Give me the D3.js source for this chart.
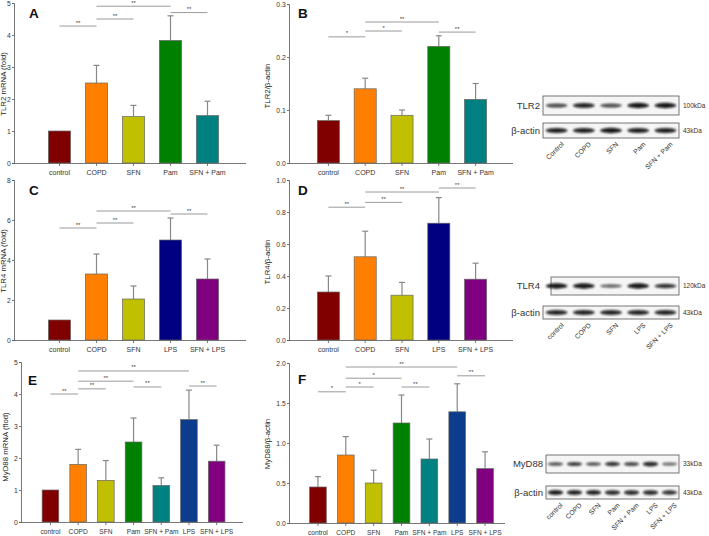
<!DOCTYPE html>
<html>
<head>
<meta charset="utf-8">
<script src="https://cdn.jsdelivr.net/npm/d3@7"></script>
<style>
  body { margin: 0; background: #fff; }
  svg { display: block; font-family: "Liberation Sans", Arial, sans-serif; }
</style>
</head>
<body>
<div id="chart"></div>
<script>
// Groepen
const groupsTLR2 = ["control", "COPD", "SFN", "Pam", "SFN + Pam"];
const groupsTLR4 = ["control", "COPD", "SFN", "LPS", "SFN + LPS"];
const groupsMyD88 = ["control", "COPD", "SFN", "Pam", "SFN + Pam", "LPS", "SFN + LPS"];

// Waarden (gemiddelde) en SD (bovenste foutbalk)
const tlr2mRNA = [1, 2.5, 1.45, 3.83, 1.48];
const tlr2mRNASd = [0, 0.55, 0.35, 0.77, 0.45];
const tlr2Protein = [0.08, 0.14, 0.09, 0.22, 0.12];
const tlr2ProteinSd = [0.01, 0.02, 0.01, 0.02, 0.03];
const tlr4mRNA = [1, 3.3, 2.05, 5.0, 3.05];
const tlr4mRNASd = [0, 1.0, 0.65, 1.1, 1.0];
const tlr4Protein = [0.30, 0.52, 0.28, 0.73, 0.38];
const tlr4ProteinSd = [0.10, 0.16, 0.08, 0.16, 0.10];
const myd88mRNA = [1, 1.8, 1.3, 2.5, 1.14, 3.2, 1.9];
const myd88mRNASd = [0, 0.47, 0.62, 0.75, 0.24, 0.92, 0.5];
const myd88Protein = [0.45, 0.85, 0.50, 1.25, 0.80, 1.39, 0.68];
const myd88ProteinSd = [0.13, 0.23, 0.16, 0.35, 0.25, 0.35, 0.21];

// Tick labels
const ticksA = [0, 1, 2, 3, 4, 5];
const ticksB = [0, 0.1, 0.2, 0.3];
const ticksC = [0, 2, 4, 6, 8];
const ticksD = [0, 0.2, 0.4, 0.6, 0.8, 1.0];
const ticksE = [0, 1, 2, 3, 4, 5];
const ticksF = [0, 0.5, 1.0, 1.5, 2.0];

// Significantie: [van, tot, label, hoogte in data-eenheden]
const sigA = [[0, 1, "**", 4.28], [1, 2, "**", 4.5], [1, 3, "**", 4.9], [3, 4, "**", 4.7]];
const sigB = [[0, 1, "*", 0.238], [1, 2, "*", 0.249], [1, 3, "**", 0.266], [3, 4, "**", 0.247]];
const sigC = [[0, 1, "**", 5.6], [1, 2, "**", 5.85], [1, 3, "**", 6.45], [3, 4, "**", 6.3]];
const sigD = [[0, 1, "**", 0.83], [1, 2, "**", 0.86], [1, 3, "**", 0.925], [3, 4, "**", 0.95]];
const sigE = [[0, 1, "**", 4.0], [1, 2, "**", 4.16], [1, 3, "**", 4.4], [1, 5, "**", 4.72], [3, 4, "**", 4.22], [5, 6, "**", 4.25]];
const sigF = [[0, 1, "*", 1.64], [1, 2, "*", 1.70], [1, 3, "*", 1.81], [1, 5, "**", 1.95], [3, 4, "**", 1.70], [5, 6, "**", 1.84]];

// Western blot band intensiteit (0-1)
const blotTLR2 = [0.55, 0.8, 0.5, 0.9, 0.9];
const blotTLR2Lanes = ["Control", "COPD", "SFN", "Pam", "SFN + Pam"];
const blotTLR2Actin = [0.85, 0.85, 0.9, 0.85, 0.85];
const blotTLR4 = [0.9, 0.9, 0.35, 0.9, 0.7];
const blotTLR4Actin = [0.8, 0.8, 0.8, 0.8, 0.8];
const blotMyD88 = [0.45, 0.6, 0.45, 0.65, 0.5, 0.75, 0.3];
const blotMyD88Actin = [0.85, 0.8, 0.8, 0.75, 0.75, 0.75, 0.7];

const colors = {
    "control": "#800000", "COPD": "#ff8000", "SFN": "#c0c000", "Pam": "#008000",
    "SFN + Pam": "#008080", "LPS": "#000080", "SFN + LPS": "#800080"
};

const width = 709, height = 536;
const svg = d3.select("#chart").append("svg")
    .attr("width", width).attr("height", height);
svg.append("rect").attr("width", width).attr("height", height).attr("fill", "#fff");

const defs = svg.append("defs");
defs.append("filter").attr("id", "blur")
    .attr("x", "-50%").attr("y", "-200%").attr("width", "200%").attr("height", "500%")
    .append("feGaussianBlur").attr("stdDeviation", 0.9);

function drawPanel(p) {
    const g = svg.append("g");
    const y = d3.scaleLinear().domain(p.domain).range([p.y0, p.y1]);
    const x = d3.scaleBand().domain(p.groups).range(p.band).paddingInner(0.4).paddingOuter(0.2);

    // y-as
    const yAxis = g.append("g").attr("transform", "translate(" + p.ax + ",0)")
        .call(d3.axisLeft(y).tickValues(p.ticks).tickFormat(p.fmt).tickSize(2).tickPadding(1.2));
    // x-as
    const xAxis = g.append("g").attr("transform", "translate(0," + p.y0 + ")")
        .call(d3.axisBottom(x).tickSize(3).tickPadding(4));
    xAxis.select(".domain").attr("d", "M" + p.ax + ",0.5H" + p.axEnd);
    [yAxis, xAxis].forEach(a => {
        a.selectAll("path, line").attr("stroke", "#555").attr("stroke-width", 0.8);
        a.selectAll("text").attr("fill", "#333").attr("font-size", 6.8)
            .attr("font-family", "Liberation Sans, Arial, sans-serif");
    });
    xAxis.selectAll("text").attr("font-size", p.xfs);

    const rows = p.groups.map((k, i) => ({ k: k, v: p.values[i], sd: p.sd[i] }));

    // foutbalken
    g.selectAll(".err").data(rows.filter(d => d.sd > 0)).enter().append("g")
        .each(function(d) {
            const cx = x(d.k) + x.bandwidth() / 2;
            const s = d3.select(this);
            s.append("line").attr("x1", cx).attr("x2", cx)
                .attr("y1", y(d.v)).attr("y2", y(d.v + d.sd))
                .attr("stroke", "#888").attr("stroke-width", 1.2);
            s.append("line").attr("x1", cx - 3).attr("x2", cx + 3)
                .attr("y1", y(d.v + d.sd)).attr("y2", y(d.v + d.sd))
                .attr("stroke", "#888").attr("stroke-width", 1.2);
        });

    // staven
    g.selectAll(".bar").data(rows).enter().append("rect")
        .attr("x", d => x(d.k))
        .attr("y", d => y(d.v))
        .attr("width", x.bandwidth())
        .attr("height", d => p.y0 - y(d.v))
        .attr("fill", d => (p.lps && d.k === "LPS") ? p.lps : colors[d.k])
        .attr("stroke", "#666").attr("stroke-width", 0.7);

    // significantie
    p.sig.forEach(s => {
        const xa = x(p.groups[s[0]]) + x.bandwidth() / 2;
        const xb = x(p.groups[s[1]]) + x.bandwidth() / 2;
        g.append("line").attr("x1", xa).attr("x2", xb)
            .attr("y1", y(s[3])).attr("y2", y(s[3]))
            .attr("stroke", "#9a9a9a").attr("stroke-width", 1);
        g.append("text").attr("x", (xa + xb) / 2).attr("y", y(s[3]) - 1.5)
            .attr("text-anchor", "middle").attr("font-size", 6).attr("fill", "#444")
            .text(s[2]);
    });

    // paneel letter
    g.append("text").attr("x", p.lx).attr("y", p.ly)
        .attr("font-size", 13.5).attr("font-weight", "bold").attr("fill", "#111")
        .attr("font-family", "Liberation Sans, Arial, sans-serif")
        .text(p.letter);
    // y titel
    g.append("text")
        .attr("transform", "translate(" + p.tx + "," + p.ty + ") rotate(-90)")
        .attr("text-anchor", "middle").attr("font-size", 7.8).attr("fill", "#222")
        .text(p.title);
}

drawPanel({ groups: groupsTLR2, values: tlr2mRNA, sd: tlr2mRNASd, sig: sigA, ticks: ticksA,
    fmt: d3.format("d"), domain: [0, 5], y0: 163, y1: 3, ax: 14, axEnd: 246, band: [41, 226], xfs: 7,
    letter: "A", lx: 29, ly: 18, title: "TLR2 mRNA (fold)", tx: 5.5, ty: 84 });
drawPanel({ groups: groupsTLR2, values: tlr2Protein, sd: tlr2ProteinSd, sig: sigB, ticks: ticksB,
    fmt: d3.format(".1f"), domain: [0, 0.3], y0: 163, y1: 4, ax: 289, axEnd: 513, band: [310, 494], xfs: 7,
    letter: "B", lx: 298, ly: 18, title: "TLR2/β-actin", tx: 270, ty: 86 });
drawPanel({ groups: groupsTLR4, values: tlr4mRNA, sd: tlr4mRNASd, sig: sigC, ticks: ticksC,
    fmt: d3.format("d"), domain: [0, 8], y0: 340, y1: 180, ax: 14, axEnd: 246, band: [41, 226], xfs: 7,
    letter: "C", lx: 29, ly: 195, title: "TLR4 mRNA (fold)", tx: 5.5, ty: 261 });
drawPanel({ groups: groupsTLR4, values: tlr4Protein, sd: tlr4ProteinSd, sig: sigD, ticks: ticksD,
    fmt: d3.format(".1f"), domain: [0, 1], y0: 340, y1: 180, ax: 289, axEnd: 513, band: [310, 494], xfs: 7,
    letter: "D", lx: 298, ly: 195, title: "TLR4/β-actin", tx: 270, ty: 262 });
drawPanel({ groups: groupsMyD88, values: myd88mRNA, sd: myd88mRNASd, sig: sigE, ticks: ticksE,
    fmt: d3.format("d"), domain: [0, 5], y0: 522, y1: 362, ax: 21, axEnd: 243, band: [36.6, 230.5], xfs: 6.6,
    letter: "E", lx: 28, ly: 385, title: "MyD88 mRNA (flod)", tx: 8, ty: 447, lps: "#0b3d8c" });
drawPanel({ groups: groupsMyD88, values: myd88Protein, sd: myd88ProteinSd, sig: sigF, ticks: ticksF,
    fmt: d3.format(".1f"), domain: [0, 2], y0: 523, y1: 363, ax: 289, axEnd: 505, band: [304, 499], xfs: 6.6,
    letter: "F", lx: 298, ly: 384, title: "MyD88/β-actin", tx: 270, ty: 444, lps: "#0b3d8c" });

// Western blots
function drawBlot(b) {
    const g = svg.append("g");
    const rowsDef = [
        { name: b.protein, kda: b.kda, vals: b.bands, top: b.top1, bot: b.bot1, left: b.left1 },
        { name: "β-actin", kda: "43kDa", vals: b.actin, top: b.top2, bot: b.bot2, left: b.left2 }
    ];
    const lanes = d3.scaleBand().domain(b.lanes).range([b.left2, b.right]);
    rowsDef.forEach(r => {
        g.append("rect").attr("x", r.left).attr("y", r.top)
            .attr("width", b.right - r.left).attr("height", r.bot - r.top)
            .attr("fill", "#f5f5f5").attr("stroke", "#555").attr("stroke-width", 0.8);
        const cy = (r.top + r.bot) / 2;
        g.selectAll(null).data(r.vals.map((v, i) => ({ v: v, lane: b.lanes[i] }))).enter()
            .append("ellipse")
            .attr("cx", d => lanes(d.lane) + lanes.bandwidth() / 2)
            .attr("cy", cy)
            .attr("rx", lanes.bandwidth() * 0.4)
            .attr("ry", d => 1.1 + 1.7 * d.v)
            .attr("fill", "#0a0a0a")
            .attr("opacity", d => 0.45 + 0.55 * d.v)
            .attr("filter", "url(#blur)");
        g.append("text").attr("x", b.left2 - 3).attr("y", cy).attr("dy", "0.35em")
            .attr("text-anchor", "end").attr("font-size", 9.5).attr("fill", "#333")
            .text(r.name);
        g.append("text").attr("x", b.right + 4).attr("y", cy).attr("dy", "0.35em")
            .attr("font-size", 6.5).attr("fill", "#333").text(r.kda);
    });
    g.selectAll(".lane").data(b.lanes).enter().append("text")
        .attr("transform", d => "translate(" + (lanes(d) + lanes.bandwidth() / 2 + 6) + "," + (b.bot2 + 5) + ") rotate(-45)")
        .attr("text-anchor", "end").attr("dy", "0.35em")
        .attr("font-size", 6.8).attr("fill", "#333")
        .text(d => d);
}

drawBlot({ protein: "TLR2", kda: "100kDa", lanes: blotTLR2Lanes, bands: blotTLR2, actin: blotTLR2Actin,
    top1: 96, bot1: 115, left1: 543, top2: 123, bot2: 138, left2: 543, right: 679 });
drawBlot({ protein: "TLR4", kda: "120kDa", lanes: groupsTLR4, bands: blotTLR4, actin: blotTLR4Actin,
    top1: 277, bot1: 295, left1: 551, top2: 306, bot2: 319, left2: 543, right: 679 });
drawBlot({ protein: "MyD88", kda: "33kDa", lanes: groupsMyD88, bands: blotMyD88, actin: blotMyD88Actin,
    top1: 455, bot1: 473, left1: 546, top2: 486, bot2: 499, left2: 546, right: 679 });
</script>
</body>
</html>
